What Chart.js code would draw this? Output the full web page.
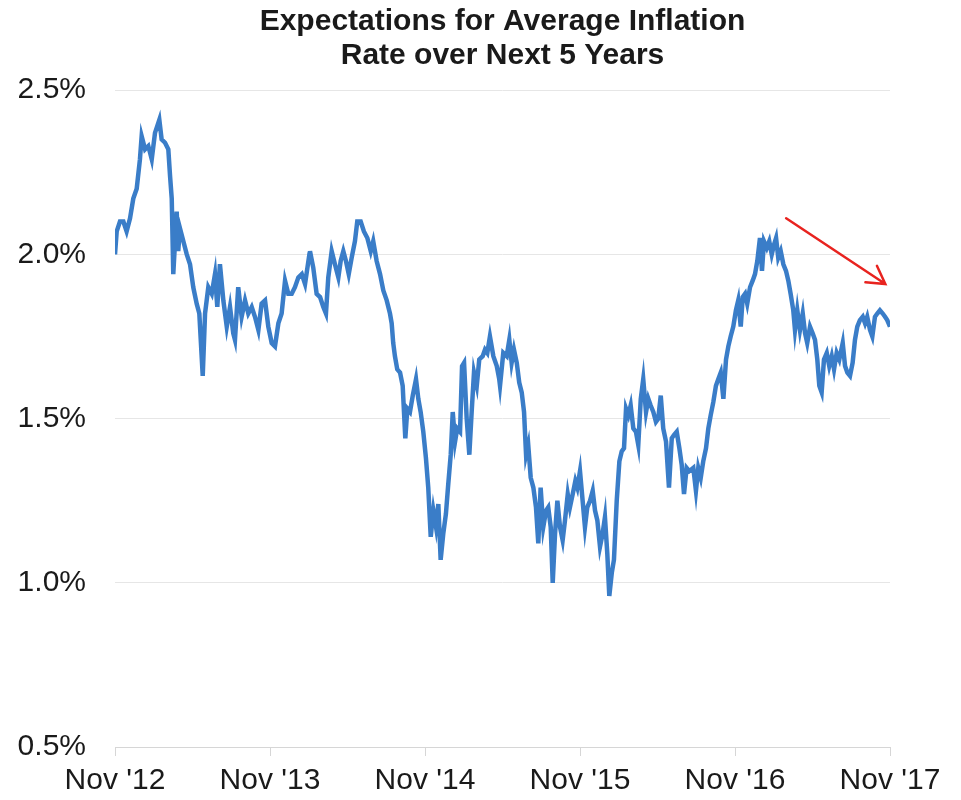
<!DOCTYPE html>
<html>
<head>
<meta charset="utf-8">
<title>Expectations for Average Inflation Rate over Next 5 Years</title>
<script src="https://cdn.jsdelivr.net/npm/chart.js@4.4.1/dist/chart.umd.min.js"></script>
<style>
  html, body { margin: 0; padding: 0; background: #fff; }
  #wrap { width: 961px; height: 800px; }
</style>
</head>
<body>
<div id="wrap"><canvas id="inflChart" width="961" height="800"></canvas></div>
<script>
// years since Nov '12 and the 5-year breakeven rate (%)
let t1 = [0.000,0.011,0.032,0.054,0.075,0.097,0.118,0.140,0.161,0.172,
  0.194,0.215,0.237,0.258,0.286,0.301,0.323,0.344,0.355,0.366,
  0.376,0.398,0.408,0.419,0.441,0.463,0.484,0.505,0.527,0.544,
  0.566,0.581,0.602,0.624,0.645,0.660,0.677,0.699,0.721,0.742,
  0.763,0.774,0.795,0.817,0.839,0.860,0.882,0.903,0.925,0.946,
  0.968,0.989,1.011,1.032,1.054,1.075,1.097,1.118,1.140,1.161,
  1.183,1.205,1.226,1.254];
let r1 = [2.00,2.07,2.10,2.10,2.07,2.11,2.17,2.20,2.29,2.36,
  2.32,2.33,2.29,2.37,2.41,2.35,2.34,2.32,2.24,2.17,
  1.94,2.13,2.01,2.08,2.04,2.00,1.97,1.90,1.85,1.82,
  1.63,1.82,1.90,1.88,1.94,1.84,1.97,1.86,1.78,1.84,
  1.76,1.74,1.90,1.81,1.86,1.82,1.84,1.81,1.77,1.85,
  1.86,1.78,1.73,1.72,1.79,1.82,1.92,1.88,1.88,1.90,
  1.93,1.94,1.91,2.00];

let t2 = [1.258,1.279,1.301,1.323,1.344,1.361,1.376,1.398,1.419,1.441,
  1.456,1.473,1.490,1.508,1.527,1.548,1.563,1.585,1.606,1.628,
  1.650,1.666,1.688,1.710,1.731,1.753,1.774,1.785,1.795,1.806,
  1.821,1.839,1.856,1.873,1.886,1.903,1.921,1.942,1.957,1.972,
  1.989,2.006,2.021,2.037,2.054,2.071,2.086,2.101,2.118,2.135,
  2.150,2.166,2.179,2.194,2.208,2.226,2.239,2.252,2.269,2.286,
  2.301,2.316,2.334,2.350,2.372,2.387,2.402,2.419,2.441,2.463,
  2.479];
let r2 = [2.01,1.96,1.88,1.87,1.84,1.82,1.93,2.01,1.97,1.93,
  1.98,2.01,1.98,1.94,1.99,2.04,2.10,2.10,2.07,2.05,
  2.01,2.04,1.98,1.94,1.89,1.86,1.82,1.79,1.73,1.69,
  1.65,1.64,1.60,1.44,1.53,1.52,1.57,1.62,1.56,1.52,
  1.46,1.38,1.29,1.14,1.22,1.17,1.24,1.07,1.15,1.21,
  1.30,1.39,1.52,1.43,1.47,1.46,1.66,1.67,1.50,1.39,
  1.52,1.64,1.60,1.68,1.69,1.71,1.70,1.75,1.69,1.66,
  1.62];

let t3 = [2.484,2.505,2.527,2.544,2.559,2.574,2.592,2.608,2.624,2.639,
  2.652,2.666,2.682,2.699,2.716,2.731,2.746,2.763,2.781,2.795,
  2.811,2.824,2.839,2.854,2.871,2.888,2.903,2.921,2.935,2.953,
  2.970,2.983,3.000,3.017,3.032,3.047,3.065,3.082,3.097,3.112,
  3.129,3.146,3.161,3.176,3.189,3.205,3.219,3.237,3.254,3.269,
  3.284,3.297,3.312,3.327,3.344,3.361,3.376,3.392,3.408,3.426,
  3.441,3.456,3.473,3.490,3.505,3.521,3.537,3.555,3.574,3.592,
  3.606,3.624,3.641,3.656,3.671,3.688,3.705];
let r3 = [1.60,1.70,1.69,1.74,1.67,1.71,1.67,1.61,1.58,1.52,
  1.39,1.42,1.32,1.29,1.23,1.12,1.29,1.17,1.22,1.23,
  1.17,1.00,1.15,1.25,1.17,1.13,1.19,1.27,1.23,1.27,
  1.31,1.29,1.34,1.25,1.17,1.23,1.25,1.28,1.22,1.19,
  1.11,1.15,1.20,1.09,0.96,1.03,1.07,1.25,1.37,1.40,
  1.41,1.53,1.51,1.54,1.47,1.46,1.42,1.56,1.62,1.52,
  1.56,1.54,1.52,1.49,1.50,1.57,1.47,1.43,1.29,1.44,
  1.45,1.46,1.41,1.36,1.27,1.35,1.34];

let t4 = [3.731,3.748,3.763,3.779,3.795,3.813,3.828,3.843,3.860,3.877,
  3.892,3.908,3.925,3.942,3.957,3.972,3.989,4.006,4.021,4.037,
  4.050,4.065,4.079,4.097,4.114,4.129,4.144,4.161,4.174,4.187,
  4.205,4.221,4.237,4.252,4.265,4.279,4.295,4.312,4.329,4.344,
  4.359,4.376,4.387,4.402,4.419,4.437,4.452,4.466,4.484,4.501,
  4.516,4.531,4.544,4.559,4.574,4.592,4.608,4.624,4.639,4.656,
  4.673,4.695,4.710,4.725,4.742,4.759,4.774,4.789,4.806,4.824,
  4.839,4.853,4.871,4.886,4.903,4.918,4.935,4.953,4.968,4.982,
  5.000];
let r4 = [1.35,1.28,1.35,1.32,1.37,1.41,1.47,1.51,1.55,1.60,
  1.62,1.64,1.56,1.68,1.72,1.75,1.78,1.83,1.86,1.78,
  1.87,1.88,1.85,1.90,1.92,1.94,1.98,2.05,1.95,2.04,
  2.02,2.04,2.00,2.03,2.05,1.99,2.01,1.97,1.95,1.92,
  1.88,1.83,1.77,1.83,1.77,1.82,1.76,1.73,1.78,1.76,
  1.74,1.68,1.60,1.58,1.68,1.70,1.66,1.69,1.65,1.70,
  1.68,1.73,1.66,1.64,1.63,1.67,1.74,1.78,1.80,1.81,
  1.79,1.81,1.77,1.75,1.81,1.82,1.83,1.82,1.81,1.80,
  1.78];

let xLabels = ["Nov '12", "Nov '13", "Nov '14", "Nov '15", "Nov '16", "Nov '17"];
let yTicks = [0.5, 1.0, 1.5, 2.0, 2.5];

// red trend arrow, in data units (years, %)
let arrowFrom = [4.33, 2.11];
let arrowTo = [4.97, 1.91];

let years = t1.concat(t2, t3, t4);
let rate = r1.concat(r2, r3, r4);
let points = years.map(function(t, i){ return {x: t, y: rate[i]}; });

let fontFam = '"Liberation Sans", Arial, Helvetica, sans-serif';

let arrowPlugin = {
  id: 'trendArrow',
  afterDatasetsDraw: function(chart){
    let ctx = chart.ctx;
    let xs = chart.scales.x, ys = chart.scales.y;
    let x0 = xs.getPixelForValue(arrowFrom[0]), y0 = ys.getPixelForValue(arrowFrom[1]);
    let x1 = xs.getPixelForValue(arrowTo[0]), y1 = ys.getPixelForValue(arrowTo[1]);
    let ang = Math.atan2(y1 - y0, x1 - x0);
    let head = 20;
    ctx.save();
    ctx.strokeStyle = '#e8231f';
    ctx.lineWidth = 2.5;
    ctx.lineCap = 'round';
    ctx.beginPath();
    ctx.moveTo(x0, y0);
    ctx.lineTo(x1, y1);
    ctx.moveTo(x1 + head * Math.cos(ang + Math.PI - 0.5), y1 + head * Math.sin(ang + Math.PI - 0.5));
    ctx.lineTo(x1, y1);
    ctx.lineTo(x1 + head * Math.cos(ang + Math.PI + 0.55), y1 + head * Math.sin(ang + Math.PI + 0.55));
    ctx.stroke();
    ctx.restore();
  }
};

let myChart = document.getElementById('inflChart').getContext('2d');

let chart = new Chart(myChart, {
  type: 'line',
  data: {
    datasets: [{
      data: points,
      borderColor: '#3a7dc8',
      borderWidth: 4.5,
      pointRadius: 0,
      tension: 0,
      fill: false
    }]
  },
  options: {
    responsive: false,
    animation: false,
    layout: { padding: { left: 0, right: 71, top: 0, bottom: 0 } },
    plugins: {
      legend: { display: false },
      tooltip: { enabled: false },
      title: {
        display: true,
        fullSize: false,
        text: ['Expectations for Average Inflation', 'Rate over Next 5 Years'],
        color: '#1a1a1a',
        font: { family: fontFam, size: 30, weight: 'bold', lineHeight: 1.12 },
        padding: { top: 5, bottom: 18 }
      }
    },
    scales: {
      x: {
        type: 'linear',
        min: 0,
        max: 5,
        afterBuildTicks: function(scale){
          scale.ticks = xLabels.map(function(l, i){ return {value: i}; });
        },
        afterFit: function(scale){ scale.height = 53; },
        ticks: {
          autoSkip: false,
          maxRotation: 0,
          padding: 7,
          color: '#1a1a1a',
          font: { family: fontFam, size: 30 },
          callback: function(v){ return xLabels[v]; }
        },
        grid: {
          drawOnChartArea: false,
          drawTicks: true,
          tickLength: 9,
          color: '#d6d6d6'
        },
        border: { display: true, color: '#d6d6d6', width: 1 }
      },
      y: {
        min: 0.5,
        max: 2.5,
        afterBuildTicks: function(scale){
          scale.ticks = yTicks.map(function(v){ return {value: v}; });
        },
        afterFit: function(scale){ scale.width = 115; },
        ticks: {
          padding: 29,
          color: '#1a1a1a',
          font: { family: fontFam, size: 30 },
          callback: function(v){ return v.toFixed(1) + '%'; }
        },
        grid: { color: '#e6e6e6', lineWidth: 1, drawTicks: false },
        border: { display: false }
      }
    }
  },
  plugins: [arrowPlugin]
});
</script>
</body>
</html>
